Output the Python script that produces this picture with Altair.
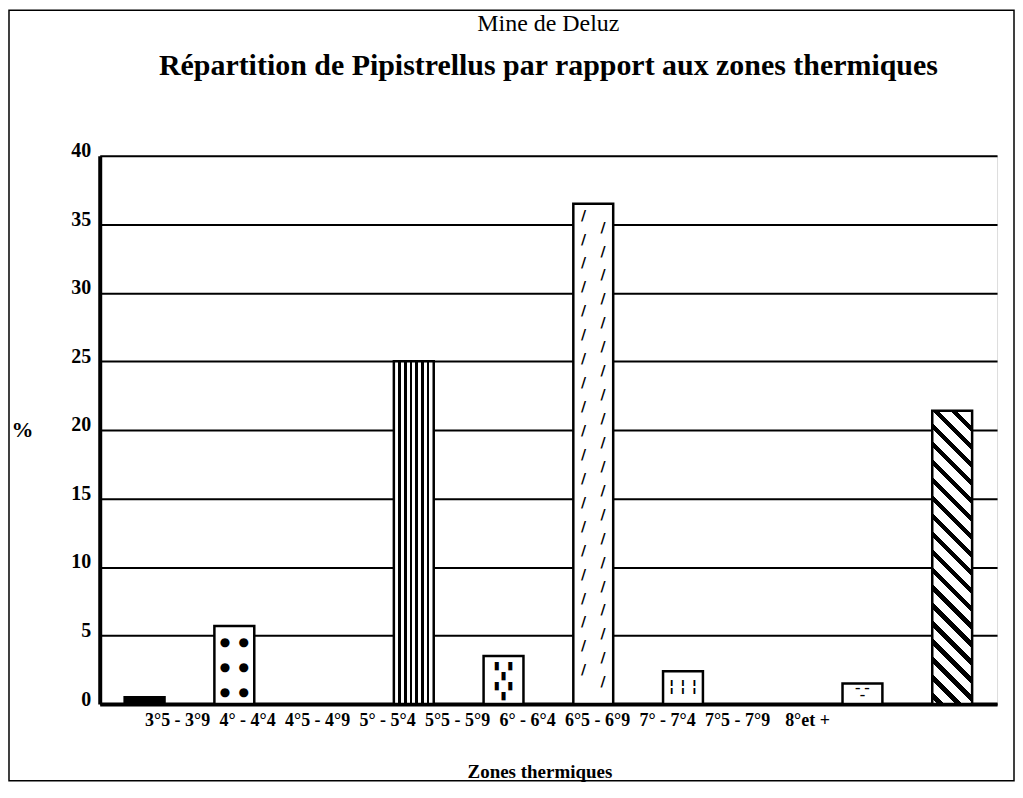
import altair as alt
import pandas as pd

# ---------------- data ----------------
categories = ["3°5 - 3°9", "4° - 4°4", "4°5 - 4°9", "5° - 5°4", "5°5 - 5°9",
              "6° - 6°4", "6°5 - 6°9", "7° - 7°4", "7°5 - 7°9", "8°et +"]
values = [0.5, 5.7, 0.0, 25.0, 3.5, 36.5, 2.4, 0.0, 1.5, 21.4]

title_top = "Mine de Deluz"
title_main = "Répartition de Pipistrellus par rapport aux zones thermiques"
x_title = "Zones thermiques"
y_title = "%"
y_ticks = [0, 5, 10, 15, 20, 25, 30, 35, 40]

# ---------------- style ----------------
W, H = 900, 550
Y_MAX = 40
PX = H / Y_MAX
BAR_W = 40
NB = "\u00a0"
ZW = "\u200b"   # keeps padding spaces from being trimmed
SERIF = "Liberation Serif"

solid_cats = ["3°5 - 3°9"]
vstripe_cats = ["5° - 5°4"]
diag_cats = ["8°et +"]
white_cats = [c for c in categories if c not in solid_cats + vstripe_cats + diag_cats]

df = pd.DataFrame({"zone": categories, "pct": values})
val = dict(zip(categories, values))

x_enc = alt.X(
    "zone:N",
    sort=categories,
    scale=alt.Scale(domain=categories, paddingInner=0, paddingOuter=0),
    axis=alt.Axis(
        labels=False, ticks=False, grid=False,
        domain=True, domainColor="black", domainWidth=4,
        title=x_title, titleFont=SERIF, titleFontSize=19, titleFontWeight="bold",
        titleColor="black", titleX=441, titleY=68, titleAlign="center",
        titleBaseline="middle",
    ),
)

y_axis = alt.Axis(
    values=y_ticks, ticks=False,
    domain=True, domainColor="black", domainWidth=4,
    grid=True, gridColor="black", gridWidth=2, gridOpacity=1,
    labelFont=SERIF, labelFontSize=20, labelFontWeight="bold", labelColor="black",
    labelPadding=9, labelOffset=-5, labelBaseline="middle",
    title=y_title, titleAngle=0, titleX=-78, titleY=275, titleAlign="center",
    titleBaseline="middle", titleFont=SERIF, titleFontSize=22,
    titleFontWeight="bold", titleColor="black",
)
y_scale = alt.Scale(domain=[0, Y_MAX], nice=False, zero=True)


def y_enc(field):
    return alt.Y(field, scale=y_scale, axis=y_axis)


base = alt.Chart(df).encode(x=x_enc, y=y_enc("pct:Q"))


def only(cats):
    return alt.FieldOneOfPredicate(field="zone", oneOf=cats)


bar_style = dict(width=BAR_W, stroke="black", strokeWidth=2.5)

bars_white = base.transform_filter(only(white_cats)).transform_filter(
    alt.datum.pct > 0).mark_bar(fill="white", **bar_style)
bars_solid = base.transform_filter(only(solid_cats)).mark_bar(fill="black", **bar_style)

# vertical stripes (gradient)
vs_stops = [alt.GradientStop(color="white", offset=0)]
hw = 0.032
for k in range(1, 7):
    c = k / 7
    vs_stops += [alt.GradientStop(color="white", offset=c - hw),
                 alt.GradientStop(color="black", offset=c - hw),
                 alt.GradientStop(color="black", offset=c + hw),
                 alt.GradientStop(color="white", offset=c + hw)]
vs_stops.append(alt.GradientStop(color="white", offset=1))
bars_vs = base.transform_filter(only(vstripe_cats)).mark_bar(
    fill=alt.LinearGradient(gradient="linear", stops=vs_stops, x1=0, y1=0, x2=1, y2=0),
    **bar_style)

# diagonal "\" stripes (gradient in bounding-box space)
h_d = val[diag_cats[0]] * PX
r = BAR_W / h_d
a = (r + 1) / (r * r + 1)
span = h_d + BAR_W
period = 18 / span
half = 3.2 / span
d_stops = [alt.GradientStop(color="white", offset=0)]
cpos = period * 0.5
while cpos + half < 1:
    d_stops += [alt.GradientStop(color="white", offset=cpos - half),
                alt.GradientStop(color="black", offset=cpos - half),
                alt.GradientStop(color="black", offset=cpos + half),
                alt.GradientStop(color="white", offset=cpos + half)]
    cpos += period
d_stops.append(alt.GradientStop(color="white", offset=1))
bars_d = base.transform_filter(only(diag_cats)).mark_bar(
    fill=alt.LinearGradient(gradient="linear", stops=d_stops,
                            x1=0, y1=1, x2=a * r, y2=1 - a),
    **bar_style)


# text textures inside the white bars (first line placed dy px below the bar top)
def texture(cat, lines, size, lh, dy, font="DejaVu Sans", weight="bold"):
    return (alt.Chart(df)
            .transform_filter(alt.datum.zone == cat)
            .mark_text(text=lines, fontSize=size, lineHeight=lh, font=font,
                       fontWeight=weight, color="black", align="center",
                       baseline="alphabetic", dy=dy)
            .encode(x=x_enc, y=y_enc("pct:Q")))


dots = ["●" + NB * 2 + "●"] * 3
blobs = ["▮" + NB * 2 + "▮", "▮", "▮" + NB * 2 + "▮", "▮"]
n6 = int((val["6° - 6°4"] * PX - 22) / 12) + 1
slashes = [("/" + NB * 4 + ZW) if i % 2 == 0 else (ZW + NB * 4 + "/") for i in range(n6)]
bars3 = ["¦" + NB + "¦" + NB + "¦"]
dashes = ["–" + NB + "–", "–"]

textures = [
    texture("4° - 4°4", dots, 12, 25, 20),
    texture("5°5 - 5°9", blobs, 11, 10, 13),
    texture("6° - 6°4", slashes, 14, 12, 16),
    texture("6°5 - 6°9", bars3, 16, 16, 20),
    texture("7°5 - 7°9", dashes, 11, 7, 9),
]

frame = alt.Chart(alt.Data(values=[{}])).mark_rect(
    fillOpacity=0, stroke="black", strokeWidth=1.5).encode(
    x=alt.value(-91), x2=alt.value(917), y=alt.value(-146), y2=alt.value(627))

inner = alt.layer(bars_white, bars_solid, bars_vs, bars_d, *textures)

labels = alt.Chart(df).mark_text(
    font=SERIF, fontSize=18, fontWeight="bold", color="black", baseline="middle"
).encode(
    x=alt.X("zone:N", sort=categories,
            scale=alt.Scale(type="point", domain=categories, range=[43, 745]),
            axis=None),
    y=alt.value(567),
    text="zone:N",
)

chart = alt.layer(frame, inner, labels).resolve_scale(x="independent").properties(
    width=W, height=H,
    title=alt.TitleParams(
        text=title_top, subtitle=title_main,
        font=SERIF, fontSize=24, fontWeight="normal", color="black",
        subtitleFont=SERIF, subtitleFontSize=30, subtitleFontWeight="bold",
        subtitleColor="black", subtitlePadding=15,
        anchor="middle", frame="group", offset=-72,
    ),
    autosize=alt.AutoSizeParams(type="none"),
    padding={"left": 92, "top": 147, "right": 18, "bottom": 78},
).configure_view(stroke=None).configure(background="white")

chart.save("out.html", embed_options={"renderer": "svg", "actions": False})
